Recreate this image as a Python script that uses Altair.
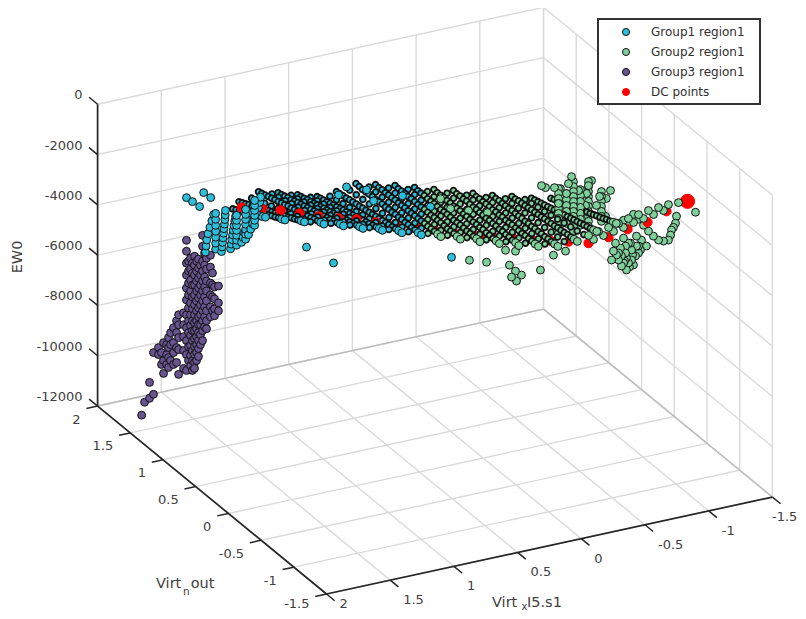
import altair as alt
import pandas as pd

# ---- data -----------------------------------------------------------------
x_ticks = [2, 1.5, 1, 0.5, 0, -0.5, -1, -1.5]
y_ticks = [2, 1.5, 1, 0.5, 0, -0.5, -1, -1.5]
z_ticks = [0, -2000, -4000, -6000, -8000, -10000, -12000]
group_names = ["Group1 region1", "Group2 region1", "Group3 region1", "DC points"]
group_colors = ["#2FBEDA", "#7FD09B", "#68548F", "#FF0000"]

# DC points
dc_x = [1.69, 1.53, 1.385, 1.236, 1.087, 0.93, 0.789, 0.64, 0.483, 0.326, 0.184, 0.035, -0.114,
        -0.192, -0.271, -0.428, -0.577, -0.734, -0.875, -1.032, -1.189, -1.338, -1.495, -1.644, -1.809]
dc_y = 0.4
dc_z = [-1030, -1245, -1482, -1766, -2046, -2299, -2492, -2773, -3022, -3314, -3547, -3788, -4032,
        -4155, -4281, -4534, -4774, -5023, -5217, -5447, -5380, -5230, -5123, -4854, -4639]

# sweep strings: one Virt_x value, EW0 along a shared list of Virt_n values
sweep_y = [1.0, 0.95, 0.9, 0.85, 0.8, 0.75, 0.7, 0.65, 0.6, 0.55, 0.5,
           0.45, 0.4, 0.35, 0.3, 0.25, 0.2, 0.15, 0.1, 0.05, 0.0]
sweep_x = [-1.045, -0.892, -0.739, -0.586, -0.433, -0.28, -0.127, 0.026,
           0.179, 0.332, 0.485, 0.638, 0.791, 0.944, 1.097, 1.25, 1.403, 1.556, 1.709]
sweep_group1_count = [0, 0, 0, 0, 0, 0, 0, 3, 9, 15, 21, 21, 21, 21, 21, 21, 21, 9, 11]
sweep_z = [
    [-4960, -4900, -4840, -4790, -4730, -4670, -4620, -4560, -4500, -4450, -4390, -4330, -4280, -4220, -4160, -4110, -4050, -3990, -3940, -3880, -3820],
    [-4790, -4750, -4710, -4670, -4630, -4590, -4550, -4500, -4460, -4420, -4380, -4340, -4300, -4260, -4220, -4180, -4140, -4100, -4060, -4020, -3970],
    [-4550, -4540, -4510, -4500, -4480, -4460, -4440, -4430, -4410, -4400, -4370, -4360, -4340, -4330, -4300, -4290, -4270, -4250, -4240, -4220, -4200],
    [-4340, -4350, -4330, -4340, -4320, -4320, -4300, -4310, -4300, -4290, -4300, -4280, -4290, -4270, -4280, -4260, -4270, -4250, -4250, -4240, -4230],
    [-4090, -4110, -4090, -4100, -4080, -4090, -4100, -4080, -4090, -4070, -4090, -4080, -4060, -4080, -4070, -4080, -4060, -4070, -4060, -4070, -4060],
    [-3810, -3830, -3810, -3820, -3800, -3820, -3830, -3810, -3830, -3820, -3840, -3820, -3840, -3830, -3850, -3830, -3850, -3840, -3860, -3850, -3860],
    [-3600, -3620, -3610, -3590, -3610, -3600, -3620, -3600, -3590, -3610, -3600, -3620, -3610, -3600, -3610, -3590, -3610, -3600, -3620, -3610, -3610],
    [-3350, -3370, -3360, -3350, -3370, -3360, -3350, -3360, -3370, -3360, -3350, -3360, -3370, -3360, -3350, -3360, -3370, -3360, -3370, -3360, -3370],
    [-3100, -3120, -3110, -3100, -3110, -3090, -3100, -3110, -3100, -3090, -3100, -3110, -3090, -3100, -3090, -3100, -3110, -3100, -3090, -3100, -3100],
    [-2900, -2910, -2890, -2900, -2880, -2890, -2870, -2880, -2870, -2860, -2870, -2860, -2850, -2860, -2850, -2840, -2850, -2840, -2830, -2840, -2830],
    [-2690, -2700, -2710, -2690, -2680, -2670, -2680, -2660, -2650, -2660, -2640, -2650, -2630, -2640, -2620, -2630, -2610, -2620, -2600, -2610, -2590],
    [-2840, -2820, -2790, -2770, -2740, -2720, -2690, -2670, -2640, -2620, -2590, -2570, -2540, -2520, -2490, -2470, -2440, -2420, -2390, -2365, -2340],
    [-2870, -2830, -2790, -2750, -2710, -2670, -2630, -2590, -2550, -2510, -2470, -2430, -2390, -2350, -2310, -2270, -2230, -2190, -2150, -2110, -2075],
    [-2630, -2590, -2550, -2500, -2470, -2430, -2390, -2350, -2310, -2270, -2230, -2190, -2150, -2110, -2070, -2030, -1990, -1950, -1910, -1870, -1830],
    [-2380, -2340, -2300, -2250, -2220, -2170, -2130, -2090, -2050, -2000, -1970, -1930, -1880, -1840, -1810, -1760, -1720, -1680, -1640, -1600, -1560],
    [-2170, -2130, -2090, -2040, -2000, -1950, -1920, -1870, -1830, -1780, -1750, -1700, -1660, -1610, -1580, -1530, -1490, -1440, -1400, -1360, -1320],
    [-2400, -2330, -2270, -2190, -2140, -2060, -2000, -1930, -1870, -1790, -1730, -1670, -1600, -1540, -1460, -1410, -1330, -1270, -1200, -1130, -1070],
    [-1340, -1280, -1210, -1150, -1080, -1020, -950, -890, -820],
    [-1280, -1210, -1140, -1060, -990, -910, -840, -770, -690, -620, -540],
]

# strings lying between those above
between_y = [0.95, 0.85, 0.75, 0.65, 0.55, 0.45, 0.35, 0.25, 0.15, 0.05]
between_x = [-0.815, -0.662, -0.51, -0.357, -0.204, -0.05, 0.102, 0.255, 0.408, 0.56, 0.715, 0.867, 1.02, 1.17, 1.33]
between_group1_count = [0, 0, 0, 0, 0, 0, 3, 6, 9, 10, 10, 10, 10, 10, 10]
between_z = [
    [-4650, -4590, -4530, -4480, -4420, -4360, -4300, -4240, -4190, -4120],
    [-4450, -4420, -4400, -4370, -4350, -4330, -4310, -4280, -4260, -4230],
    [-4230, -4220, -4210, -4210, -4190, -4190, -4170, -4170, -4160, -4155],
    [-3970, -3950, -3960, -3950, -3960, -3950, -3970, -3950, -3960, -3960],
    [-3725, -3710, -3720, -3730, -3710, -3730, -3720, -3740, -3720, -3730],
    [-3490, -3480, -3500, -3480, -3490, -3480, -3490, -3500, -3480, -3485],
    [-3240, -3230, -3240, -3230, -3250, -3220, -3240, -3230, -3240, -3230],
    [-3010, -3000, -3000, -2990, -2990, -2980, -2980, -2970, -2980, -2970],
    [-2800, -2790, -2780, -2770, -2760, -2760, -2750, -2740, -2730, -2725],
    [-2760, -2730, -2700, -2670, -2640, -2610, -2570, -2550, -2520, -2490],
    [-2830, -2760, -2700, -2640, -2580, -2510, -2450, -2380, -2310, -2230],
    [-2710, -2630, -2550, -2470, -2390, -2310, -2230, -2150, -2070, -1990],
    [-2460, -2380, -2300, -2210, -2130, -2050, -1970, -1880, -1800, -1720],
    [-2240, -2160, -2080, -1990, -1910, -1830, -1750, -1660, -1570, -1480],
    [-2230, -2120, -2010, -1900, -1790, -1680, -1570, -1460, -1360, -1250],
]

# steep Group 2 strands on the right, Virt_n = 0.5
fan_x = [-0.848, -0.965, -1.083, -1.185, -0.91, -1.02]
fan_z = [[-3288, -3485, -3683, -3880, -4077, -4275, -4472, -4670, -4867, -5065],
         [-3140, -3337, -3534, -3732, -3929, -4126, -4324, -4521, -4718, -4916, -5113],
         [-3269, -3466, -3664, -3861, -4059, -4256, -4453, -4651, -4848, -5045],
         [-3775, -3973, -4170, -4367, -4565, -4762, -4960],
         [-3554, -3791, -4028, -4264, -4501, -4738],
         [-3516, -3753, -3990, -4226, -4463, -4700, -4937]]

# Group 2 band that climbs towards the last DC point, Virt_n = 0
band_x = [-0.827, -0.905, -0.984, -1.062, -1.14, -1.219, -1.297, -1.376, -1.454, -1.533,
          -0.866, -0.944, -1.023, -1.101, -1.18, -1.258, -1.337, -1.415]
band_z = [-4060, -3989, -3916, -3843, -3733, -3662, -3587, -3555, -3524, -3531,
          -4262, -4191, -4116, -4045, -3934, -3859, -3788, -3717]

# single points, Virt_n = 0.5
g2_extra_x = [0.078, 0, -0.141, -0.29, -0.149, -0.283, -0.463, -0.51, -0.479, -0.557, -0.518, -0.706, -0.432, -0.51, -0.808, -0.903,
              -0.714, -0.746, -0.816, -0.863, -0.926, -0.95, -0.91, -0.848, -1.005, -1.068, -1.107, -1.083, -1.256, -1.17, -1.224, -1.146, -1.06, -1.217,
              -1.923, -1.774, -1.766, -1.735, -1.711, -1.633, -1.554, -1.436, -1.358,
              -1.538, -1.499, -1.46, -1.476, -1.421, -1.381, -1.342, -1.264, -1.279, -1.374, -1.342, -1.452, -1.397, -1.319, -1.374, -1.421, -1.295,
              -1.413, -1.358, -1.476, -1.405, -1.366,
              -1.319, -1.358, -1.436, -1.491, -1.397, -1.303, -1.334, -1.429, -1.381, -1.46,
              -1.75, -1.727, -1.672, -1.593, -1.515, -1.476, -1.397]
g2_extra_z = [-2670, -3151, -3384, -3626, -5367, -5591, -5907, -6196, -6398, -6405, -6599, -6371, -5280, -5406, -5890, -5835,
              -3023, -3137, -3214, -3305, -3176, -2925, -3554, -3880, -3538, -3725, -3255, -3427, -3813, -3956, -4095, -4285, -4191, -4796,
              -5411, -5406, -5674, -5916, -6285, -6199, -5758, -4958, -5109,
              -6333, -6053, -5852, -6540, -6757, -7109, -6908, -6585, -6247, -6153, -6513, -6633, -6849, -6645, -6429, -6362, -5948,
              -6077, -5819, -6264, -7016, -6736,
              -6369, -6806, -6971, -6439, -6060, -6431, -6189, -6568, -6635, -6247,
              -5823, -6104, -6281, -5998, -5478, -5198, -5349]
g1_extra_x = [0.816, 0.879, 0.659, 0.604, 0.377, 0.157, -0.008]
g1_extra_z = [-1389, -1636, -1679, -2174, -2225, -2900, -5093]

# single points, Virt_n = 1.5
g1_far_x = [1.559, 1.512, 1.456, 1.424, 1.369, 0.617, 0.405]
g1_far_z = [-3132, -3341, -3599, -3080, -3338, -6136, -6999]

# columns at the bend, Virt_n = 1.5
bend_x = [[1.41, 1.405, 1.40, 1.39, 1.375, 1.36, 1.346],
          [1.33, 1.33, 1.33, 1.33, 1.33, 1.33, 1.33],
          [1.284, 1.28, 1.276, 1.272, 1.268, 1.265, 1.261, 1.258, 1.255, 1.253],
          [1.213, 1.208, 1.203, 1.197, 1.192, 1.186, 1.18, 1.174],
          [1.166, 1.166, 1.166, 1.166, 1.166, 1.166, 1.166],
          [1.127, 1.115, 1.103, 1.09, 1.078, 1.064, 1.049],
          [1.095, 1.095, 1.095, 1.095, 1.095, 1.095, 1.095],
          [1.072, 1.055, 1.04, 1.025, 1.01, 0.995, 0.985, 0.978],
          [1.024, 1.024, 1.024, 1.024, 1.024, 1.024]]
bend_z = [[-5461, -5224, -4987, -4751, -4514, -4277, -4040],
          [-5432, -5195, -4958, -4721, -4484, -4247, -4011],
          [-5578, -5400, -5223, -5045, -4868, -4690, -4512, -4335, -4157, -3979],
          [-5544, -5367, -5189, -5011, -4834, -4656, -4478, -4301],
          [-5456, -5258, -5061, -4864, -4666, -4469, -4271],
          [-5385, -5207, -5030, -4852, -4674, -4497, -4319],
          [-5296, -5099, -4902, -4704, -4507, -4310, -4112],
          [-5136, -4939, -4742, -4544, -4347, -4149, -3952, -3755],
          [-4820, -4623, -4426, -4228, -4031, -3834]]

# Group 3 columns, Virt_n = 1.5
g3_x = [1.911, 1.888, 1.849, 1.818, 1.779, 1.755, 1.739, 1.715, 1.70, 1.684, 1.661, 1.637, 1.621, 1.582,
        1.559, 1.543, 1.527, 1.512, 1.496, 1.48, 1.465, 1.449, 1.433, 1.417, 1.402, 1.371, 1.355, 1.339, 1.308]
g3_z = [[-11392], [-10904], [-10158, -10790], [-9007, -10666], [-8853, -9129], [-9076, -9550],
        [-8698, -9409, -9922], [-8803, -9198, -9592], [-8544, -8939, -9333, -9728], [-8363, -8837, -9469],
        [-8192, -8784, -9179, -9653], [-7941, -8415, -9007, -9599],
        [-7722, -8117, -8630, -9104, -10091], [-7686, -8159, -8633, -9186, -9896],
        [-4829, -5263, -5737, -6211, -6724, -7198, -7790, -8303, -8817, -9369, -10001],
        [-5676, -6070, -6544, -7018, -7531, -8044, -8518, -9071, -9624],
        [-5574, -6008, -6443, -6877, -7351, -7825, -8259, -8654, -9048, -9443, -9838],
        [-5789, -6184, -6658, -7131, -7605, -8079, -8474, -8868, -9263, -9658, -10053],
        [-5530, -5885, -6280, -6674, -7069, -7464, -7859, -8175, -8491, -8806, -9122, -9438, -9754, -9991],
        [-5744, -6139, -6534, -6929, -7324, -7718, -8113, -8429, -8745, -9061, -9376, -9692],
        [-5682, -6038, -6432, -6827, -7222, -7617, -7972, -8288, -8604, -8920, -9235, -9551],
        [-5937, -6331, -6726, -7121, -7516, -7911, -8305, -8700, -9095],
        [-4769, -5203, -5796, -6190, -6585, -6980, -7375, -7770, -8164, -8559, -8954],
        [-5497, -5971, -6445, -6840, -7234, -7629, -8024, -8420],
        [-5712, -6146, -6620, -7014, -7409, -7804, -8199, -8515],
        [-5628, -6101, -6733, -7207, -7680, -8075],
        [-6355, -6829, -7303, -7855],
        [-6925, -7399, -7794, -8070],
        [-6921, -7592, -7908]]

# ---- 3-D view (orthographic) -----------------------------------------------
W, H = 790, 603
XMIN, XMAX, YMIN, YMAX, ZMIN, ZMAX = -1.5, 2, -1.5, 2, -12000, 0
PT, DC, DC_LAST = 62, 85, 200
DENSE, DENSE_W, PT_W = 34, 1.8, 1.0


def proj(x, y, z):
    sx = 326.5 + (x - 2) * -127.4 + (y + 1.5) * -65.4
    sy = 594 + (x - 2) * 27.7 + (y + 1.5) * -53.7 + (z + 12000) * -0.02515
    return sx - 8, sy - 8


def depth(x, y):
    return 27.7 * x - 53.7 * y


# ---- points ---------------------------------------------------------------
far_rows, mid_rows, near_rows = [], [], []
for xv, zs in zip(g3_x, g3_z):
    for zv in zs:
        far_rows.append((group_names[2], xv, 1.5, zv, PT, PT_W, 0))
for xv, zv in zip(g1_far_x, g1_far_z):
    far_rows.append((group_names[0], xv, 1.5, zv, PT, PT_W, 0))
for xv, n1, zs in zip(sweep_x, sweep_group1_count, sweep_z):
    ys = sweep_y[-len(zs):]
    for i, (yv, zv) in enumerate(zip(ys, zs)):
        g = group_names[0] if i < n1 else group_names[1]
        s, w = (DENSE, DENSE_W) if yv > 0.06 else (PT, PT_W)
        mid_rows.append((g, xv, yv, zv, s, w, depth(xv, yv)))
for xv, n1, zs in zip(between_x, between_group1_count, between_z):
    for i, (yv, zv) in enumerate(zip(between_y, zs)):
        g = group_names[0] if i < n1 else group_names[1]
        mid_rows.append((g, xv, yv, zv, DENSE, DENSE_W, depth(xv, yv)))
for xv, zs in zip(fan_x, fan_z):
    for zv in zs:
        mid_rows.append((group_names[1], xv, 0.5, zv, PT, PT_W, depth(xv, 0.5)))
for xv, zv in zip(band_x, band_z):
    mid_rows.append((group_names[1], xv, 0.0, zv, PT, PT_W, depth(xv, 0.0)))
for xv, zv in zip(g2_extra_x, g2_extra_z):
    mid_rows.append((group_names[1], xv, 0.5, zv, PT, PT_W, depth(xv, 0.5)))
for xv, zv in zip(g1_extra_x, g1_extra_z):
    mid_rows.append((group_names[0], xv, 0.5, zv, PT, PT_W, depth(xv, 0.5)))
for i, (xv, zv) in enumerate(zip(dc_x, dc_z)):
    mid_rows.append((group_names[3], xv, dc_y, zv, DC_LAST if i == len(dc_x) - 1 else DC, 1.0, depth(xv, 0.28)))
mid_rows.sort(key=lambda r: r[6])
for xs, zs in zip(bend_x, bend_z):
    for xv, zv in zip(xs, zs):
        near_rows.append((group_names[0], xv, 1.5, zv, PT, PT_W, 0))

rows = far_rows + mid_rows + near_rows
points = pd.DataFrame(rows, columns=["group", "x", "y", "z", "s", "w", "d"])
points["px"] = [proj(a, b, c)[0] for a, b, c in zip(points.x, points.y, points.z)]
points["py"] = [proj(a, b, c)[1] for a, b, c in zip(points.x, points.y, points.z)]


# ---- box, grid, ticks -----------------------------------------------------
def seg(a, b):
    p, q = proj(*a), proj(*b)
    return {"px": p[0], "py": p[1], "px2": q[0], "py2": q[1]}


grid = []
for t in x_ticks:
    grid.append(seg((t, YMIN, ZMIN), (t, YMAX, ZMIN)))
    grid.append(seg((t, YMAX, ZMIN), (t, YMAX, ZMAX)))
for t in y_ticks:
    grid.append(seg((XMIN, t, ZMIN), (XMAX, t, ZMIN)))
    grid.append(seg((XMIN, t, ZMIN), (XMIN, t, ZMAX)))
for t in z_ticks:
    grid.append(seg((XMAX, YMAX, t), (XMIN, YMAX, t)))
    grid.append(seg((XMIN, YMAX, t), (XMIN, YMIN, t)))
edges = [seg((XMAX, YMAX, ZMIN), (XMIN, YMAX, ZMIN)), seg((XMIN, YMAX, ZMIN), (XMIN, YMIN, ZMIN))]
axes_lines = [seg((XMAX, YMIN, ZMIN), (XMIN, YMIN, ZMIN)),
              seg((XMAX, YMIN, ZMIN), (XMAX, YMAX, ZMIN)),
              seg((XMAX, YMAX, ZMIN), (XMAX, YMAX, ZMAX))]
tick_lines = []
for t in x_ticks:
    tick_lines.append(seg((t, YMIN, ZMIN), (t, YMIN - 0.125, ZMIN)))
for t in y_ticks:
    tick_lines.append(seg((XMAX, t, ZMIN), (XMAX + 0.088, t, ZMIN)))
for t in z_ticks:
    tick_lines.append(seg((XMAX, YMAX, t), (XMAX, YMAX + 0.13, t)))

labels = []
for t in x_ticks:
    p = proj(t, YMIN, ZMIN)
    # keep the labels inside the page
    labels.append({"px": min(p[0] + 13, W - 26), "py": min(p[1] + 20, H - 7), "t": f"{t:g}", "a": "left"})
for t in y_ticks:
    p = proj(XMAX, t, ZMIN)
    labels.append({"px": p[0] - 17, "py": min(p[1] + 13.5, H - 7), "t": f"{t:g}", "a": "right"})
for t in z_ticks:
    p = proj(XMAX, YMAX, t)
    labels.append({"px": p[0] - 15, "py": p[1] - 9, "t": f"{t:g}", "a": "right"})
labels = pd.DataFrame(labels)

X = alt.X("px:Q", axis=None, scale=alt.Scale(domain=[0, W], nice=False, zero=False))
Y = alt.Y("py:Q", axis=None, scale=alt.Scale(domain=[H, 0], nice=False, zero=False))


def rules(data, color, width):
    return alt.Chart(pd.DataFrame(data)).mark_rule(color=color, strokeWidth=width).encode(
        x=X, y=Y, x2="px2:Q", y2="py2:Q")


def label_layer(align):
    return alt.Chart(labels[labels.a == align]).mark_text(
        align=align, baseline="middle", font="DejaVu Sans", fontSize=13, color="#404040"
    ).encode(x=X, y=Y, text="t:N")


scatter = alt.Chart(points).mark_circle(opacity=1).encode(
    x=X, y=Y,
    size=alt.Size("s:Q", scale=None, legend=None),
    strokeWidth=alt.StrokeWidth("w:Q", scale=None, legend=None),
    stroke=alt.Stroke("group:N", scale=alt.Scale(domain=group_names, range=["#101010", "#101010", "#101010", "#FF0000"]), legend=None),
    color=alt.Color("group:N", scale=alt.Scale(domain=group_names, range=group_colors),
                    legend=alt.Legend(orient="none", legendX=612, legendY=18, title=None, padding=0,
                                      symbolType="circle", symbolSize=50, symbolStrokeColor="#202020",
                                      symbolStrokeWidth=1, labelOffset=19,
                                      labelFont="DejaVu Sans", labelFontSize=12, labelColor="#303030",
                                      rowPadding=8)),
)

legend_box = alt.Chart(pd.DataFrame([{"px": 590, "py": 11, "px2": 752, "py2": 96}])).mark_rect(
    fill="white", stroke="#333333", strokeWidth=2).encode(x=X, y=Y, x2="px2:Q", y2="py2:Q")


def title(text, px, py, size=14.5, angle=0, align="left"):
    return alt.Chart(pd.DataFrame({"t": [text]})).mark_text(
        font="DejaVu Sans", fontSize=size, color="#404040", align=align, baseline="middle", angle=angle
    ).encode(x=alt.value(px - 8), y=alt.value(py - 8), text="t:N")


chart = alt.layer(
    rules(grid, "#dadada", 1.4),
    rules(edges, "#bdbdbd", 1.4),
    scatter,
    rules(axes_lines, "#262626", 1.7),
    rules(tick_lines, "#262626", 1.5),
    label_layer("left"),
    label_layer("right"),
    title("EW0", 18, 257, 14.5, 270, "center"),
    title("Virt", 156, 584),
    title("n", 183, 592, 10.5),
    title("out", 190.7, 584),
    title("Virt", 492, 603),
    title("x", 521.5, 607, 10),
    title("I5.s1", 527, 603),
    legend_box,
).properties(
    width=W, height=H, padding=0, autosize=alt.AutoSizeParams(type="none")
).configure_view(stroke=None)

chart.save("out.html", embed_options={"renderer": "svg", "actions": False})
